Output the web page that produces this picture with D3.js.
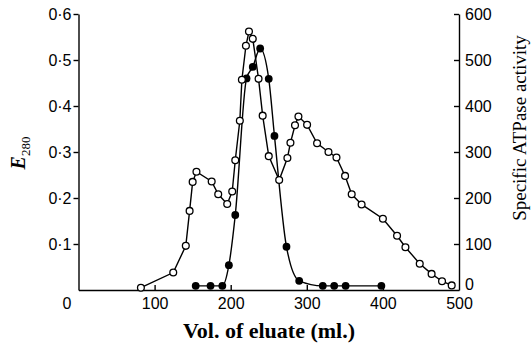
<!DOCTYPE html>
<html>
<head>
<meta charset="utf-8">
<script src="https://cdn.jsdelivr.net/npm/d3@7"></script>
<style>
  body { margin: 0; background: #fff; }
  svg { display: block; }
  .axis path, .axis line { stroke: #000; stroke-width: 1.4; }
  .axis text { font-family: "Liberation Sans", Arial, sans-serif; font-size: 16px; fill: #000; }
</style>
</head>
<body>
<svg id="chart" width="532" height="345"></svg>
<script>
// E280 (open circles)
const openVol = [82, 124.5, 141, 146, 150, 155, 175, 183.6, 195.4, 202, 206, 212, 214.7, 220, 224, 229, 236.6, 242, 250, 263.7,
  274.5, 278.5, 284.5, 289, 300.4, 313.5, 328.5, 339, 350.3, 359, 372, 400, 418.6, 429.6, 448.4, 464, 477.7, 490.4];
const openE280 = [0.005, 0.038, 0.096, 0.172, 0.235, 0.257, 0.236, 0.208, 0.187, 0.214, 0.282, 0.368, 0.457, 0.531, 0.562, 0.546, 0.459, 0.379, 0.291, 0.239,
  0.287, 0.32, 0.358, 0.377, 0.359, 0.319, 0.300, 0.288, 0.248, 0.208, 0.186, 0.155, 0.118, 0.093, 0.057, 0.035, 0.019, 0.01];

// Specific ATPase activity (filled circles)
const filledVol = [154, 173.5, 189, 197.6, 206, 220.8, 229, 238.7, 250, 257.5, 273.3, 290, 321, 336, 351, 398];
const filledAct = [9, 9, 9, 54, 163, 460, 485, 525, 459, 335, 94, 20, 9, 9, 9, 9];

const xTicks = [0, 100, 200, 300, 400, 500];
const leftTicks = [0.1, 0.2, 0.3, 0.4, 0.5, 0.6];
const rightTicks = [0, 100, 200, 300, 400, 500, 600];

const svg = d3.select("#chart");

const x = d3.scaleLinear().domain([0, 500]).range([78.5, 459]);
const yL = d3.scaleLinear().domain([0, 0.6]).range([290, 14]);
const yR = d3.scaleLinear().domain([0, 600]).range([290, 14]);

// 坐标轴
svg.append("g")
  .attr("class", "axis")
  .attr("transform", "translate(0,290)")
  .call(d3.axisBottom(x).tickValues(xTicks).tickSizeInner(-5).tickSizeOuter(0).tickPadding(8))
  .call(g => g.selectAll(".tick").filter(d => d === 0).select("text").attr("dx", -12))
  .call(g => g.selectAll(".tick").filter(d => d === 0 || d === 500).select("line").remove());

svg.append("g")
  .attr("class", "axis")
  .attr("transform", "translate(78.5,0)")
  .call(d3.axisLeft(yL).tickValues(leftTicks).tickSizeInner(5).tickSizeOuter(0).tickPadding(2)
    .tickFormat(d => d3.format(".1f")(d).replace(".", "·")));

svg.append("g")
  .attr("class", "axis")
  .attr("transform", "translate(459,0)")
  .call(d3.axisRight(yR).tickValues(rightTicks).tickSizeInner(-5).tickSizeOuter(0).tickPadding(6))
  .call(g => g.selectAll(".tick").filter(d => d === 0).select("text").attr("dy", "-0.05em"))
  .call(g => g.selectAll(".tick").filter(d => d === 0).select("line").remove());

// 数据线
const openData = openVol.map((v, i) => ({ v, y: openE280[i] }));
const filledData = filledVol.map((v, i) => ({ v, y: filledAct[i] }));

svg.append("path")
  .datum(filledData)
  .attr("fill", "none")
  .attr("stroke", "#000")
  .attr("stroke-width", 1.4)
  .attr("d", d3.line().x(d => x(d.v)).y(d => yR(d.y)).curve(d3.curveMonotoneX));

svg.append("path")
  .datum(openData)
  .attr("fill", "none")
  .attr("stroke", "#000")
  .attr("stroke-width", 1.4)
  .attr("d", d3.line().x(d => x(d.v)).y(d => yL(d.y)));

svg.append("g")
  .selectAll("circle")
  .data(filledData)
  .join("circle")
  .attr("cx", d => x(d.v))
  .attr("cy", d => yR(d.y))
  .attr("r", 3.9)
  .attr("fill", "#000");

svg.append("g")
  .selectAll("circle")
  .data(openData)
  .join("circle")
  .attr("cx", d => x(d.v))
  .attr("cy", d => yL(d.y))
  .attr("r", 3.4)
  .attr("fill", "#fff")
  .attr("stroke", "#000")
  .attr("stroke-width", 1.3);

// 轴标题
svg.append("text")
  .attr("transform", "translate(25,153) rotate(-90)")
  .attr("text-anchor", "middle")
  .attr("fill", "#000")
  .attr("font-family", "Liberation Serif, serif")
  .attr("font-style", "italic")
  .attr("font-weight", "bold")
  .attr("font-size", 20)
  .html('E<tspan font-size="13" font-style="normal" font-weight="normal" dy="5">280</tspan>');

svg.append("text")
  .attr("transform", "translate(526,128) rotate(-90)")
  .attr("text-anchor", "middle")
  .attr("fill", "#000")
  .attr("font-family", "Liberation Serif, serif")
  .attr("font-size", 19)
  .text("Specific ATPase activity");

svg.append("text")
  .attr("x", 269)
  .attr("y", 338)
  .attr("text-anchor", "middle")
  .attr("fill", "#000")
  .attr("font-family", "Liberation Serif, serif")
  .attr("font-weight", "bold")
  .attr("font-size", 22)
  .text("Vol. of eluate (ml.)");
</script>
</body>
</html>
